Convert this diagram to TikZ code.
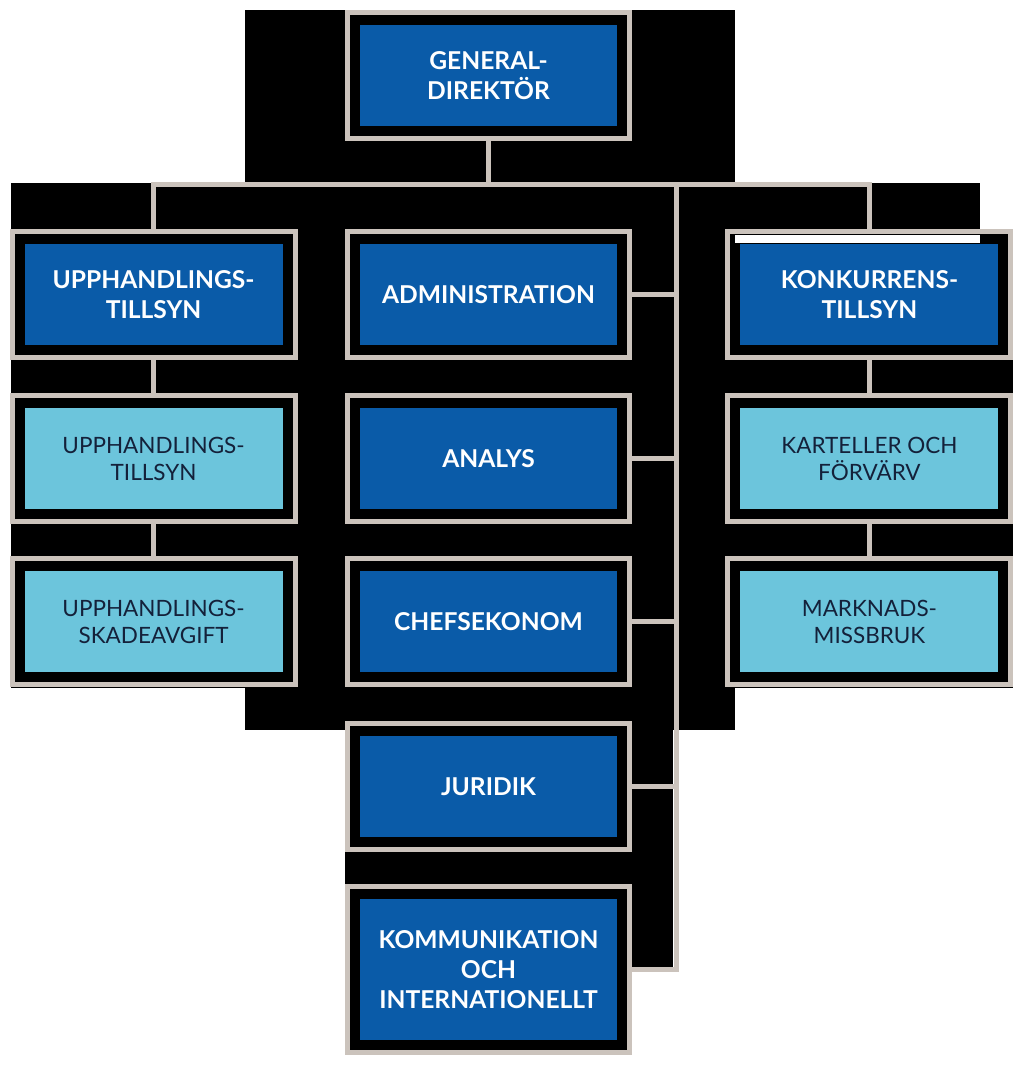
\documentclass[tikz,border=0pt]{standalone}
\usepackage{fontspec}
\setmainfont{Lato}
\usetikzlibrary{positioning,calc}
\definecolor{orgblue}{HTML}{0A5BA8}
\definecolor{subblue}{HTML}{6CC5DC}
\definecolor{framegrey}{HTML}{CBC3BC}
\definecolor{ink}{HTML}{14213A}
\tikzset{
    unitbox/.style={fill=orgblue,text=white,
      font=\fontsize{14}{17}\selectfont\bfseries,
      minimum width=5.16cm,minimum height=2.02cm,inner sep=0pt,outer sep=0.3cm,
      align=center,
      preaction={draw=framegrey,line width=0.6cm},
      preaction={draw=black,line width=0.4cm}},
    subbox/.style={unitbox,fill=subblue,text=ink,
      font=\fontsize{12.8}{15.4}\selectfont},
    link/.style={draw=framegrey,line width=0.1cm}
}

\begin{document}
\begin{tikzpicture}[x=0.02cm,y=0.02cm]
  \useasboundingbox (0,0) rectangle (1024,1067);
  % black backdrop behind the chart
  \fill[black] (245,884) rectangle (735,1057);
  \fill[black] (11,837) rectangle (980,884);
  \fill[black] (11,379) rectangle (1013,837);
  \fill[black] (245,337) rectangle (735,379);
  \fill[black] (345,97) rectangle (673,337);

  % middle column
  \node[unitbox] (gd) at (488.5,991) {GENERAL-\\DIREKTÖR};
  \node[unitbox,below=1.76cm of gd] (adm) {ADMINISTRATION};
  \node[unitbox,below=0.66cm of adm] (ana) {ANALYS};
  \node[unitbox,below=0.64cm of ana] (chef) {CHEFSEKONOM};
  \node[unitbox,below=0.68cm of chef] (jur) {JURIDIK};
  \node[unitbox,minimum height=2.82cm,below=0.64cm of jur] (komm)
    {KOMMUNIKATION\\OCH\\INTERNATIONELLT};

  % left column
  \node[unitbox,left=0.94cm of adm] (upph) {UPPHANDLINGS-\\TILLSYN};
  \node[subbox,below=0.66cm of upph] (upsyn) {UPPHANDLINGS-\\TILLSYN};
  \node[subbox,below=0.64cm of upsyn] (upskad) {UPPHANDLINGS-\\SKADEAVGIFT};

  % right column
  \node[unitbox,right=1.86cm of adm] (konk) {KONKURRENS-\\TILLSYN};
  \node[subbox,below=0.66cm of konk] (kart) {KARTELLER OCH\\FÖRVÄRV};
  \node[subbox,below=0.64cm of kart] (mark) {MARKNADS-\\MISSBRUK};
  \fill[white] (735,824) rectangle (980,832);

  % connectors
  \coordinate[below=0.87cm of gd.south] (split);
  \coordinate (spine) at ([xshift=0.88cm]adm.east |- split);
  \draw[link] (gd.south) -- (split);
  \draw[link] (upph.north) -- (upph.north |- split) -- (konk.north |- split) -- (konk.north);
  \draw[link] (spine) |- (komm.east);
  \foreach \n in {adm,ana,chef,jur}
    \draw[link] (\n.east) -- (\n.east -| spine);
  \draw[link] (upph.south) -- (upsyn.north);
  \draw[link] (upsyn.south) -- (upskad.north);
  \draw[link] (konk.south) -- (kart.north);
  \draw[link] (kart.south) -- (mark.north);
\end{tikzpicture}
\end{document}
